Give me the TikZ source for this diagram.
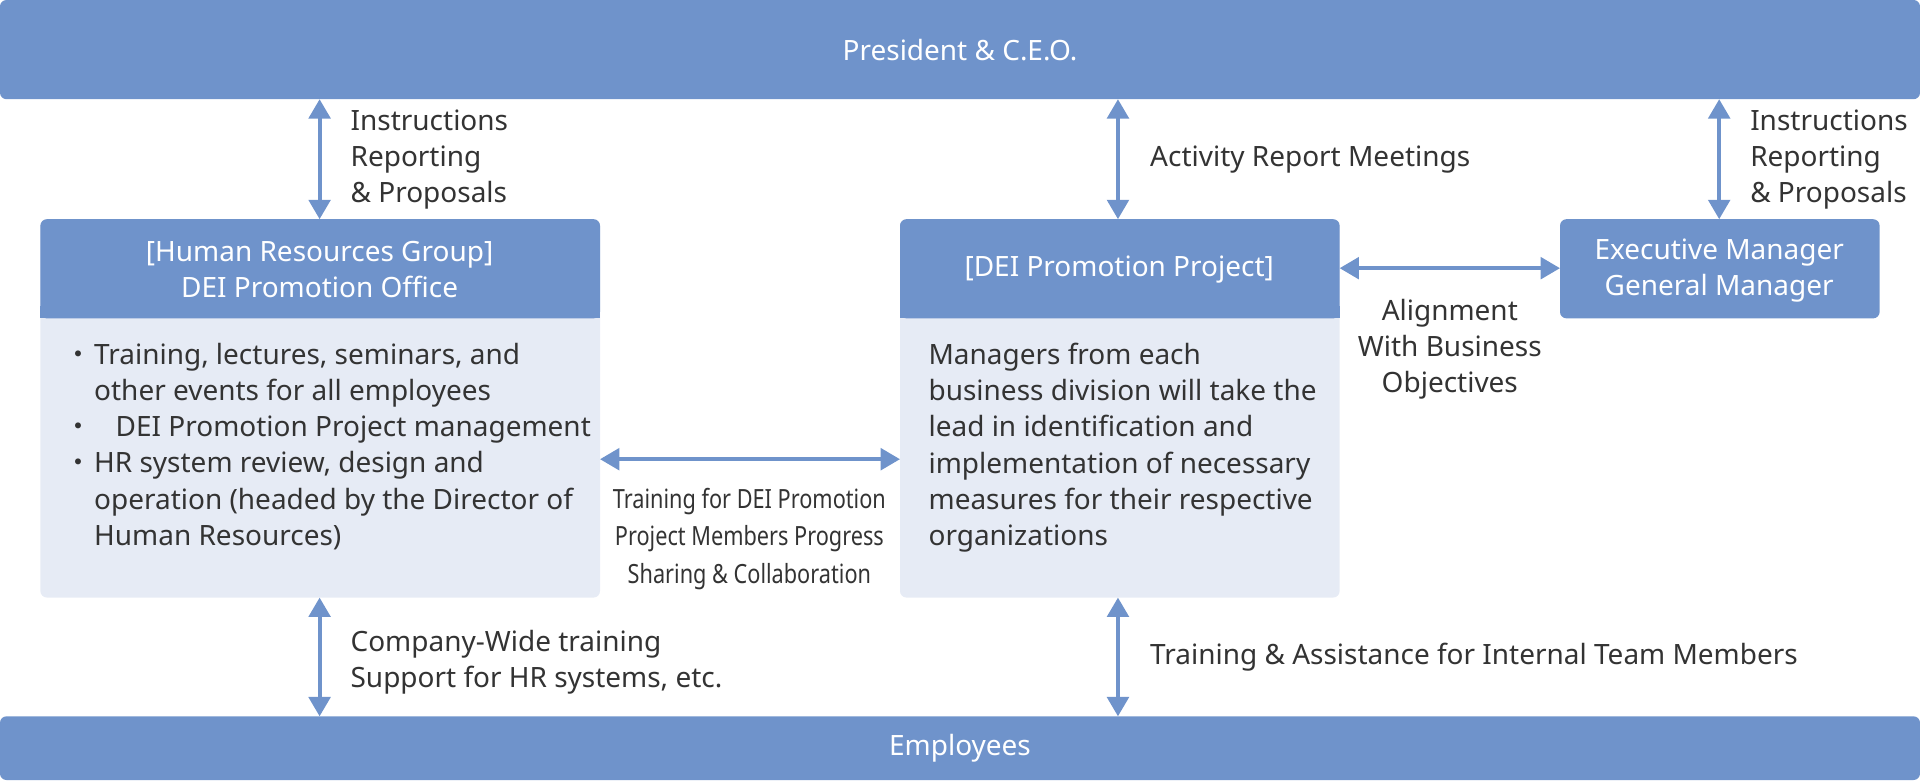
\documentclass[tikz,border=0pt]{standalone}
\usepackage{fontspec}
\setmainfont{Noto Sans}
\newfontfamily\narrowfont[FakeStretch=0.82]{Noto Sans}
\newfontfamily\cjk{Noto Sans CJK JP}
\usetikzlibrary{arrows.meta}
\definecolor{hdr}{HTML}{6F93CB}
\definecolor{bdy}{HTML}{E6EBF5}
\definecolor{txt}{HTML}{333333}
\tikzset{
 x=0.02cm,y=-0.02cm,
 bar/.style={fill=hdr,draw=none,rounded corners=3pt},
 body/.style={fill=bdy,draw=none,rounded corners=3pt},
 lbl/.style={text=txt,font=\fontsize{13}{16.8}\selectfont,align=left,anchor=west,inner sep=0pt},
 wlbl/.style={text=white,font=\fontsize{13}{17}\selectfont,align=center,inner sep=0pt},
 conn/.style={hdr,line width=1.8pt,{Triangle[length=9pt,width=10pt]}-{Triangle[length=9pt,width=10pt]}},
}
\begin{document}
\begin{tikzpicture}
\useasboundingbox (0,0) rectangle (1568,637);
% bars
\fill[bar] (0,0) rectangle (1568,81);
\node[wlbl] (ceo) at (784,41) {President \& C.E.O.};
\coordinate (ceoL) at (261,81); \coordinate (ceoM) at (913,81); \coordinate (ceoR) at (1404,81);
\fill[bar] (0,585) rectangle (1568,637);
\node[wlbl] (emp) at (784,611) {Employees};
\coordinate (empL) at (261,585); \coordinate (empM) at (913,585);
% left box
\fill[body] (33,179) rectangle (490,488);
\fill[bar] (33,179) rectangle (490,260);
\fill[hdr] (33,250) rectangle (490,260);
\node[wlbl] (lh) at (261,220) {[Human Resources Group]\\DEI Promotion Office};
\node[lbl,anchor=north west] (lb) at (52,280) {%
\fontsize{13}{18.2}\selectfont
\makebox[14pt][l]{\cjk ・}Training, lectures, seminars, and\\
\hspace*{14pt}other events for all employees\\
\makebox[24pt][l]{\cjk ・}DEI Promotion Project management\\
\makebox[14pt][l]{\cjk ・}HR system review, design and\\
\hspace*{14pt}operation (headed by the Director of\\
\hspace*{14pt}Human Resources)};
\coordinate (lT) at (261,179); \coordinate (lB) at (261,488); \coordinate (lR) at (490,375);
% middle box
\fill[body] (735,179) rectangle (1094,488);
\fill[bar] (735,179) rectangle (1094,260);
\fill[hdr] (735,250) rectangle (1094,260);
\node[wlbl] (mh) at (914,220) {[DEI Promotion Project]};
\node[lbl,anchor=north west] (mb) at (758,280) {\fontsize{13}{18.2}\selectfont Managers from each\\business division will take the\\lead in identification and\\implementation of necessary\\measures for their respective\\organizations};
\coordinate (mT) at (913,179); \coordinate (mB) at (913,488); \coordinate (mL) at (735,375); \coordinate (mR) at (1094,219);
% right box
\fill[bar] (1274,179) rectangle (1535,260);
\node[wlbl] (rh) at (1404,221) {Executive Manager\\General Manager};
\coordinate (rT) at (1404,179); \coordinate (rL) at (1274,219);
% connectors
\draw[conn] (ceoL) -- (lT);
\draw[conn] (ceoM) -- (mT);
\draw[conn] (ceoR) -- (rT);
\draw[conn] (mR) -- (rL);
\draw[conn] (lR) -- (mL);
\draw[conn] (lB) -- (empL);
\draw[conn] (mB) -- (empM);
% labels
\node[lbl] (t1) at (286,130) {Instructions\\Reporting\\\& Proposals};
\node[lbl] (t2) at (939,130) {Activity Report Meetings};
\node[lbl] (t3) at (1429,130) {Instructions\\Reporting\\\& Proposals};
\node[lbl,anchor=center,align=center] (t4) at (1184,285) {Alignment\\With Business\\Objectives};
\node[text=txt,align=center,inner sep=0pt,font=\narrowfont\fontsize{12.3}{17.5}\selectfont] (t5) at (612,440) {Training for DEI Promotion\\Project Members Progress\\Sharing \& Collaboration};
\node[lbl] (t6) at (286,541) {Company-Wide training\\Support for HR systems, etc.};
\node[lbl] (t7) at (939,537) {Training \& Assistance for Internal Team Members};
\end{tikzpicture}
\end{document}
